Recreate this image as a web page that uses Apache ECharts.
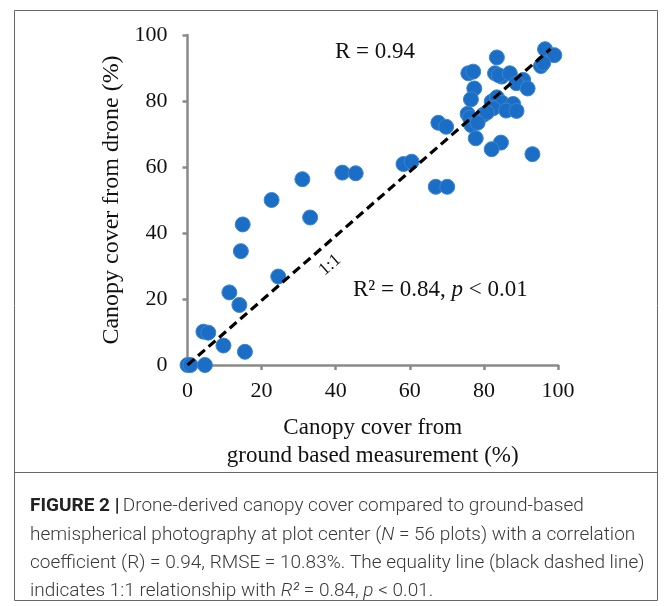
<!DOCTYPE html>
<html>
<head>
<meta charset="utf-8">
<script src="https://cdn.jsdelivr.net/npm/echarts@6/dist/echarts.min.js"></script>
<style>
html,body{margin:0;padding:0;background:#fff;}
#c{width:670px;height:606px;}
</style>
</head>
<body>
<div id="c"></div>
<script>
// ground-based (x) vs drone (y) canopy cover, %
const groundCover = [0,0.8,4.7,4.3,5.6,9.7,15.5,11.3,14.0,14.4,14.9,24.5,22.7,33.1,31.0,41.8,45.4,58.3,60.5,67.0,70.1,67.7,69.8,75.8,77.1,83.5,96.5,99.0,95.4,96.0,83.0,84.8,84.0,87.0,90.6,88.8,91.8,77.4,76.5,82.1,83.5,84.8,87.9,82.5,86.0,88.8,75.6,76.2,79.8,80.8,76.6,78.3,77.8,84.6,82.1,93.1];
const droneCover  = [0,0,0,10.1,9.8,5.9,4.0,22.0,18.2,34.5,42.6,26.8,50.0,44.7,56.3,58.3,58.1,60.9,61.6,54.0,54.0,73.4,72.2,88.4,88.9,93.2,95.7,93.9,90.6,91.5,88.4,87.4,87.8,88.4,86.4,85.4,83.8,83.8,80.5,79.8,81.1,79.5,79.1,77.8,77.1,77.0,76.1,75.0,75.8,76.5,72.7,73.4,68.7,67.4,65.4,63.9];
const lineX = [0, 98];
const lineY = [0, 95.8];
const xTicks = [0,20,40,60,80,100];
const yTicks = [0,20,40,60,80,100];

const points = groundCover.map((g,i)=>[g, droneCover[i]]);
const line = lineX.map((x,i)=>[x, lineY[i]]);

const chart = echarts.init(document.getElementById('c'), null, {renderer:'canvas'});
const serif = '"Liberation Serif", "Times New Roman", serif';
const axisGray = '#8a8a8a';
const cap = {fontFamily:'Roboto, "Liberation Sans", sans-serif', fontSize:19, fill:'#3a3a3a', fontWeight:300};

chart.setOption({
  animation:false,
  grid:{left:187.5, right:112, top:35, bottom:241},
  xAxis:{
    type:'value', min:0, max:100, interval:20,
    axisLine:{lineStyle:{color:axisGray, width:2.5}},
    axisTick:{show:true, length:5, lineStyle:{color:axisGray, width:2.5}},
    splitLine:{show:false},
    axisLabel:{fontFamily:serif, fontSize:22, color:'#111', margin:15, formatter:v=>xTicks.includes(v)?String(v):''},
    name:'Canopy cover from\nground based measurement (%)',
    nameLocation:'middle', nameGap:49,
    nameTextStyle:{fontFamily:serif, fontSize:23, color:'#111', lineHeight:28}
  },
  yAxis:{
    type:'value', min:0, max:100, interval:20,
    axisLine:{show:true, lineStyle:{color:axisGray, width:2.5}},
    axisTick:{show:true, length:5, lineStyle:{color:axisGray, width:2.5}},
    splitLine:{show:false},
    axisLabel:{fontFamily:serif, fontSize:22, color:'#111', margin:20, formatter:v=>yTicks.includes(v)?String(v):''},
    name:'Canopy cover from drone (%)',
    nameLocation:'middle', nameGap:64,
    nameTextStyle:{fontFamily:serif, fontSize:24, color:'#111'}
  },
  series:[
    {
      type:'line', data:line, symbol:'none', silent:true, z:3,
      lineStyle:{color:'#000', width:3.2, type:[9,5]}
    },
    {
      type:'scatter', data:points, symbol:'circle', symbolSize:15, z:2,
      itemStyle:{color:'#1b6ec5', borderColor:'#3c84cf', borderWidth:1, opacity:1}
    }
  ],
  graphic:[
    {type:'rect', shape:{x:14.5, y:10.5, width:643, height:590}, style:{fill:'none', stroke:'#666', lineWidth:1}, silent:true},
    {type:'line', shape:{x1:14.5, y1:472.5, x2:657.5, y2:472.5}, style:{stroke:'#666', lineWidth:1}, silent:true},
    {type:'text', x:335, y:52, style:{text:'R = 0.94', font:'23px ' + serif, fill:'#111', verticalAlign:'middle'}},
    {type:'text', x:353, y:290, style:{
      text:'{n|R² = 0.84, }{i|p}{n| < 0.01}', verticalAlign:'middle',
      rich:{n:{fontFamily:serif, fontSize:23, fill:'#111'}, i:{fontFamily:serif, fontSize:23, fill:'#111', fontStyle:'italic'}}
    }},
    {type:'text', x:330, y:265, rotation:41*Math.PI/180, style:{text:'1:1', font:'18px ' + serif, fill:'#111', align:'center', verticalAlign:'middle'}},
    {type:'text', x:30, y:506, style:{
      text:'{b|FIGURE 2 |} {t|Drone-derived canopy cover compared to ground-based}', verticalAlign:'middle',
      rich:{b:{fontFamily:cap.fontFamily, fontSize:19, fill:'#222', fontWeight:'bold'}, t:cap}
    }},
    {type:'text', x:30, y:535, style:{
      text:'{t|hemispherical photography at plot center (}{i|N}{t| = 56 plots) with a correlation}', verticalAlign:'middle',
      rich:{t:cap, i:Object.assign({}, cap, {fontStyle:'italic'})}
    }},
    {type:'text', x:30, y:563, style:{
      text:'{t|coefficient (R) = 0.94, RMSE = 10.83%. The equality line (black dashed line)}', verticalAlign:'middle',
      rich:{t:cap}
    }},
    {type:'text', x:30, y:591, style:{
      text:'{t|indicates 1:1 relationship with }{i|R²}{t| = 0.84, }{i|p}{t| < 0.01.}', verticalAlign:'middle',
      rich:{t:cap, i:Object.assign({}, cap, {fontStyle:'italic'})}
    }}
  ]
});
</script>
</body>
</html>
